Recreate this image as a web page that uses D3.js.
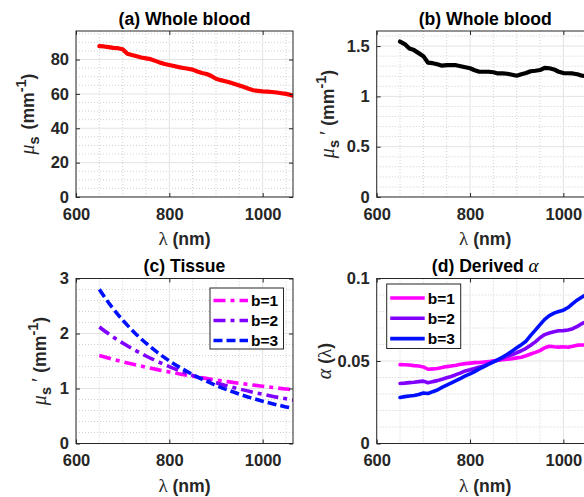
<!DOCTYPE html>
<html>
<head>
<meta charset="utf-8">
<script src="https://cdn.jsdelivr.net/npm/d3@7"></script>
<style>
  body { margin: 0; background: #fff; }
  svg { display: block; }
</style>
</head>
<body>
<svg id="chart" width="584" height="497"></svg>
<script>
// ---- data -------------------------------------------------------------
const wavelength = [650,660,670,680,690,700,710,720,730,740,750,760,770,780,790,800,810,820,830,840,850,
  860,870,880,890,900,910,920,930,940,950,960,970,980,990,1000,1010,1020,1030,1040,1050,1060,1065];

// (a) scattering coefficient of whole blood, mm^-1
const bloodMuS = [87.8,87.6,87.2,86.8,86.6,86.0,83.4,82.6,81.9,81.2,80.7,80.2,79.2,78.2,77.4,76.8,76.2,75.6,75.1,74.6,74.1,
  73.0,72.2,71.6,70.4,68.8,68.0,67.4,66.6,65.8,64.9,64.0,63.0,62.1,61.8,61.5,61.3,61.1,60.8,60.4,60.0,59.4,59.0];

// (b) reduced scattering coefficient of whole blood, mm^-1
const bloodMuSPrime = [1.545,1.52,1.475,1.46,1.43,1.40,1.335,1.33,1.32,1.305,1.31,1.31,1.31,1.30,1.29,1.28,1.26,1.245,1.245,1.245,1.24,
  1.228,1.228,1.225,1.215,1.205,1.22,1.232,1.25,1.255,1.262,1.284,1.28,1.268,1.245,1.232,1.23,1.228,1.22,1.205,1.2,1.19,1.185];

// (c) tissue reduced scattering for three scattering powers
const tissueWavelength = [650,675,700,725,750,775,800,825,850,875,900,925,950,975,1000,1025,1050,1065];
const tissueB1 = [1.601,1.542,1.487,1.435,1.387,1.343,1.301,1.261,1.224,1.189,1.156,1.125,1.095,1.067,1.041,1.015,0.991,0.977];
const tissueB2 = [2.118,1.964,1.826,1.703,1.591,1.490,1.398,1.315,1.239,1.169,1.105,1.046,0.992,0.941,0.895,0.852,0.812,0.789];
const tissueB3 = [2.802,2.502,2.244,2.020,1.824,1.653,1.503,1.371,1.253,1.149,1.056,0.972,0.898,0.830,0.770,0.715,0.665,0.637];

// (d) derived blood fraction alpha(lambda)
const alphaB1 = [0.0478,0.0477,0.0476,0.0472,0.0470,0.0464,0.0450,0.0452,0.0455,0.0460,0.0466,0.0470,0.0474,0.0480,0.0484,0.0487,0.0490,0.0491,0.0494,0.0496,0.0501,
  0.0505,0.0508,0.0511,0.0514,0.0519,0.0523,0.0532,0.0542,0.0552,0.0563,0.0580,0.0589,0.0586,0.0584,0.0586,0.0583,0.0589,0.0596,0.0597,0.0597,0.0598,0.0599];
const alphaB2 = [0.0364,0.0366,0.0369,0.0371,0.0375,0.0378,0.0368,0.0375,0.0381,0.0389,0.0398,0.0406,0.0417,0.0428,0.0440,0.0447,0.0455,0.0463,0.0472,0.0482,0.0495,
  0.0506,0.0518,0.0528,0.0538,0.0550,0.0562,0.0577,0.0596,0.0616,0.0641,0.0660,0.0670,0.0677,0.0683,0.0684,0.0688,0.0696,0.0710,0.0727,0.0738,0.0745,0.0750];
const alphaB3 = [0.0279,0.0284,0.0288,0.0291,0.0297,0.0306,0.0303,0.0314,0.0324,0.0340,0.0354,0.0367,0.0381,0.0395,0.0410,0.0422,0.0436,0.0452,0.0466,0.0481,0.0495,
  0.0508,0.0524,0.0541,0.0560,0.0580,0.0599,0.0620,0.0655,0.0687,0.0720,0.0752,0.0775,0.0790,0.0800,0.0808,0.0824,0.0848,0.0870,0.0888,0.0905,0.0920,0.0928];

const seriesNames = ["b=1", "b=2", "b=3"];
const xTicks = [600, 800, 1000];
const yTicksA = [0, 20, 40, 60, 80];
const yTicksB = [0, 0.5, 1, 1.5];
const yTicksC = [0, 1, 2, 3];
const yTicksD = [0, 0.05, 0.1];

// ---- styling ----------------------------------------------------------
const SANS = "'Liberation Sans', Arial, sans-serif";
const SERIF = "'Liberation Serif', 'DejaVu Serif', serif";
const AXIS_COLOR = "#262626";
const TICK_FONT = 16.5;
const LABEL_FONT = 17.6;
const SCRIPT_FONT = 14.5;
const X_DOMAIN = [600, 1065];
const MAGENTA = "#ff00ff", VIOLET = "#8000ff", BLUE = "#0010ff";

const svg = d3.select("#chart");

function panel(cfg) {
  const { left, right, top, bottom } = cfg;
  const x = d3.scaleLinear().domain(X_DOMAIN).range([left, right]);
  const y = d3.scaleLinear().domain([0, cfg.yMax]).range([bottom, top]);
  const g = svg.append("g");

  const clipId = "clip-" + cfg.id;
  svg.append("clipPath").attr("id", clipId)
    .append("rect").attr("x", left).attr("y", top)
    .attr("width", right - left).attr("height", bottom - top);

  // minor grid (dotted)
  const xMinor = d3.range(X_DOMAIN[0], X_DOMAIN[1] + 1e-9, 50).filter(v => !xTicks.includes(v));
  const yMinor = d3.range(0, cfg.yMax + 1e-9, cfg.yMinor).filter(v => !cfg.yTicks.some(t => Math.abs(t - v) < 1e-9));
  const grid = g.append("g").attr("clip-path", `url(#${clipId})`);
  grid.selectAll(".xm").data(xMinor).join("line")
    .attr("x1", d => x(d)).attr("x2", d => x(d)).attr("y1", top).attr("y2", bottom)
    .attr("stroke", "#c4c4c4").attr("stroke-width", 0.8).attr("stroke-dasharray", "1,2");
  grid.selectAll(".ym").data(yMinor).join("line")
    .attr("x1", left).attr("x2", right).attr("y1", d => y(d)).attr("y2", d => y(d))
    .attr("stroke", "#c4c4c4").attr("stroke-width", 0.8).attr("stroke-dasharray", "1,2");
  // major grid
  grid.selectAll(".xg").data(xTicks).join("line")
    .attr("x1", d => x(d)).attr("x2", d => x(d)).attr("y1", top).attr("y2", bottom)
    .attr("stroke", "#e3e3e3").attr("stroke-width", 1);
  grid.selectAll(".yg").data(cfg.yTicks).join("line")
    .attr("x1", left).attr("x2", right).attr("y1", d => y(d)).attr("y2", d => y(d))
    .attr("stroke", "#e3e3e3").attr("stroke-width", 1);

  // data lines
  const lines = g.append("g").attr("clip-path", `url(#${clipId})`);
  cfg.series.forEach(s => {
    const pts = s.values.map((v, i) => [s.x[i], v]);
    lines.append("path")
      .attr("d", d3.line().x(d => x(d[0])).y(d => y(d[1])).curve(s.curve || d3.curveLinear)(pts))
      .attr("fill", "none").attr("stroke", s.color).attr("stroke-width", s.width)
      .attr("stroke-dasharray", s.dash || null)
      .attr("stroke-linejoin", "round").attr("stroke-linecap", s.dash ? "butt" : "round");
  });

  // axes with inward ticks
  const styleAxis = sel => {
    sel.select(".domain").remove();
    sel.selectAll(".tick line").attr("stroke", AXIS_COLOR);
    sel.selectAll(".tick text").attr("fill", AXIS_COLOR)
      .style("font-family", SANS).style("font-size", TICK_FONT + "px").style("font-weight", "bold");
  };
  g.append("g").attr("transform", `translate(0,${bottom})`)
    .call(d3.axisBottom(x).tickValues(xTicks).tickFormat(d3.format("d")).tickSize(-4).tickPadding(11))
    .call(styleAxis);
  g.append("g").attr("transform", `translate(0,${top})`)
    .call(d3.axisTop(x).tickValues(xTicks).tickFormat("").tickSize(-4))
    .call(styleAxis);
  g.append("g").attr("transform", `translate(${left},0)`)
    .call(d3.axisLeft(y).tickValues(cfg.yTicks).tickFormat(d3.format("~g")).tickSize(-4).tickPadding(7))
    .call(styleAxis);
  g.append("g").attr("transform", `translate(${right},0)`)
    .call(d3.axisRight(y).tickValues(cfg.yTicks).tickFormat("").tickSize(-4))
    .call(styleAxis);

  g.append("rect").attr("x", left).attr("y", top)
    .attr("width", right - left).attr("height", bottom - top)
    .attr("fill", "none").attr("stroke", AXIS_COLOR).attr("stroke-width", 1);

  // title
  const title = g.append("text")
    .attr("x", (left + right) / 2).attr("y", top - 6.5)
    .attr("text-anchor", "middle").attr("fill", "#000")
    .style("font-family", SANS).style("font-size", LABEL_FONT + "px").style("font-weight", "bold");
  title.append("tspan").text(cfg.title);
  if (cfg.titleGreek) {
    title.append("tspan").text(cfg.titleGreek).style("font-size", "19px")
      .style("font-family", SERIF).style("font-style", "italic").style("font-weight", "normal");
  }

  // x label
  const xl = g.append("text")
    .attr("x", (left + right) / 2).attr("y", bottom + 48)
    .attr("text-anchor", "middle").attr("fill", AXIS_COLOR)
    .style("font-family", SANS).style("font-size", LABEL_FONT + "px").style("font-weight", "bold");
  xl.append("tspan").text("λ").style("font-family", SERIF).style("font-weight", "normal").style("font-size", "19px");
  xl.append("tspan").text(" (nm)");

  // y label
  const yl = g.append("text")
    .attr("transform", `translate(${cfg.yLabelX},${(top + bottom) / 2}) rotate(-90)`)
    .attr("text-anchor", "middle").attr("fill", AXIS_COLOR)
    .style("font-family", SANS).style("font-size", LABEL_FONT + "px").style("font-weight", "bold");
  cfg.yLabel(yl);

  // legend
  if (cfg.legend) {
    const L = cfg.legend;
    const lg = g.append("g");
    lg.append("rect").attr("x", L.x).attr("y", L.y).attr("width", L.w).attr("height", L.h)
      .attr("fill", "#fff").attr("stroke", AXIS_COLOR).attr("stroke-width", 1);
    cfg.series.forEach((s, i) => {
      const yy = L.y + L.first + i * L.step;
      lg.append("line").attr("x1", L.x + 3.5).attr("x2", L.x + 38).attr("y1", yy).attr("y2", yy)
        .attr("stroke", s.color).attr("stroke-width", s.width)
        .attr("stroke-dasharray", s.dash || null);
      lg.append("text").attr("x", L.x + 41).attr("y", yy).attr("dy", "0.36em")
        .attr("fill", "#000").text(seriesNames[i])
        .style("font-family", SANS).style("font-size", "15.5px").style("font-weight", "bold");
    });
  }
}

// μs with optional prime, and unit mm^-1
function muLabel(prime) {
  return t => {
    t.append("tspan").text("μ").style("font-family", SERIF).style("font-style", "italic")
      .style("font-weight", "normal").style("font-size", "20px");
    t.append("tspan").text("s").attr("dy", 5).style("font-size", SCRIPT_FONT + "px");
    if (prime) {
      t.append("tspan").text(" ′").attr("dy", -5).style("font-family", SERIF)
        .style("font-weight", "normal").style("font-size", "20px");
      t.append("tspan").text(" (mm");
    } else {
      t.append("tspan").text(" (mm").attr("dx", 2).attr("dy", -5);
    }
    t.append("tspan").text("-1").attr("dy", -8).style("font-size", SCRIPT_FONT + "px");
    t.append("tspan").text(")").attr("dy", 8);
  };
}

const TOP_ROW = { top: 31, bottom: 197 };
const BOTTOM_ROW = { top: 278.5, bottom: 443.5 };
const LEFT_COL = { left: 76, right: 293 };
const RIGHT_COL = { left: 376.7, right: 593.7 };

panel({
  id: "a", ...LEFT_COL, ...TOP_ROW, yMax: 96.6, yTicks: yTicksA, yMinor: 5,
  title: "(a) Whole blood", yLabelX: 34, yLabel: muLabel(false),
  series: [{ x: wavelength, values: bloodMuS, color: "#ff0000", width: 4.2 }]
});

panel({
  id: "b", ...RIGHT_COL, ...TOP_ROW, yMax: 1.65, yTicks: yTicksB, yMinor: 0.1,
  title: "(b) Whole blood", yLabelX: 334, yLabel: muLabel(true),
  series: [{ x: wavelength, values: bloodMuSPrime, color: "#000000", width: 4.2 }]
});

panel({
  id: "c", ...LEFT_COL, ...BOTTOM_ROW, yMax: 3, yTicks: yTicksC, yMinor: 0.2,
  title: "(c) Tissue", yLabelX: 46, yLabel: muLabel(true),
  series: [
    { x: tissueWavelength, values: tissueB1, color: MAGENTA, width: 3.6, dash: "12,5,4,5", curve: d3.curveMonotoneX },
    { x: tissueWavelength, values: tissueB2, color: VIOLET, width: 3.6, dash: "12,5,4,5", curve: d3.curveMonotoneX },
    { x: tissueWavelength, values: tissueB3, color: BLUE, width: 3.6, dash: "9,4", curve: d3.curveMonotoneX }
  ],
  legend: { x: 210, y: 288, w: 73.5, h: 61, first: 12.5, step: 20 }
});

panel({
  id: "d", ...RIGHT_COL, ...BOTTOM_ROW, yMax: 0.1, yTicks: yTicksD, yMinor: 0.01,
  title: "(d) Derived ", titleGreek: "α", yLabelX: 331,
  yLabel: t => {
    t.append("tspan").text("α").style("font-family", SERIF).style("font-style", "italic")
      .style("font-weight", "normal").style("font-size", "20px");
    t.append("tspan").text(" (");
    t.append("tspan").text("λ").style("font-family", SERIF).style("font-weight", "normal").style("font-size", "19px");
    t.append("tspan").text(")");
  },
  series: [
    { x: wavelength, values: alphaB1, color: MAGENTA, width: 3.6 },
    { x: wavelength, values: alphaB2, color: VIOLET, width: 3.6 },
    { x: wavelength, values: alphaB3, color: BLUE, width: 3.6 }
  ],
  legend: { x: 386.7, y: 284, w: 74, h: 64.5, first: 14, step: 20.3 }
});
</script>
</body>
</html>
